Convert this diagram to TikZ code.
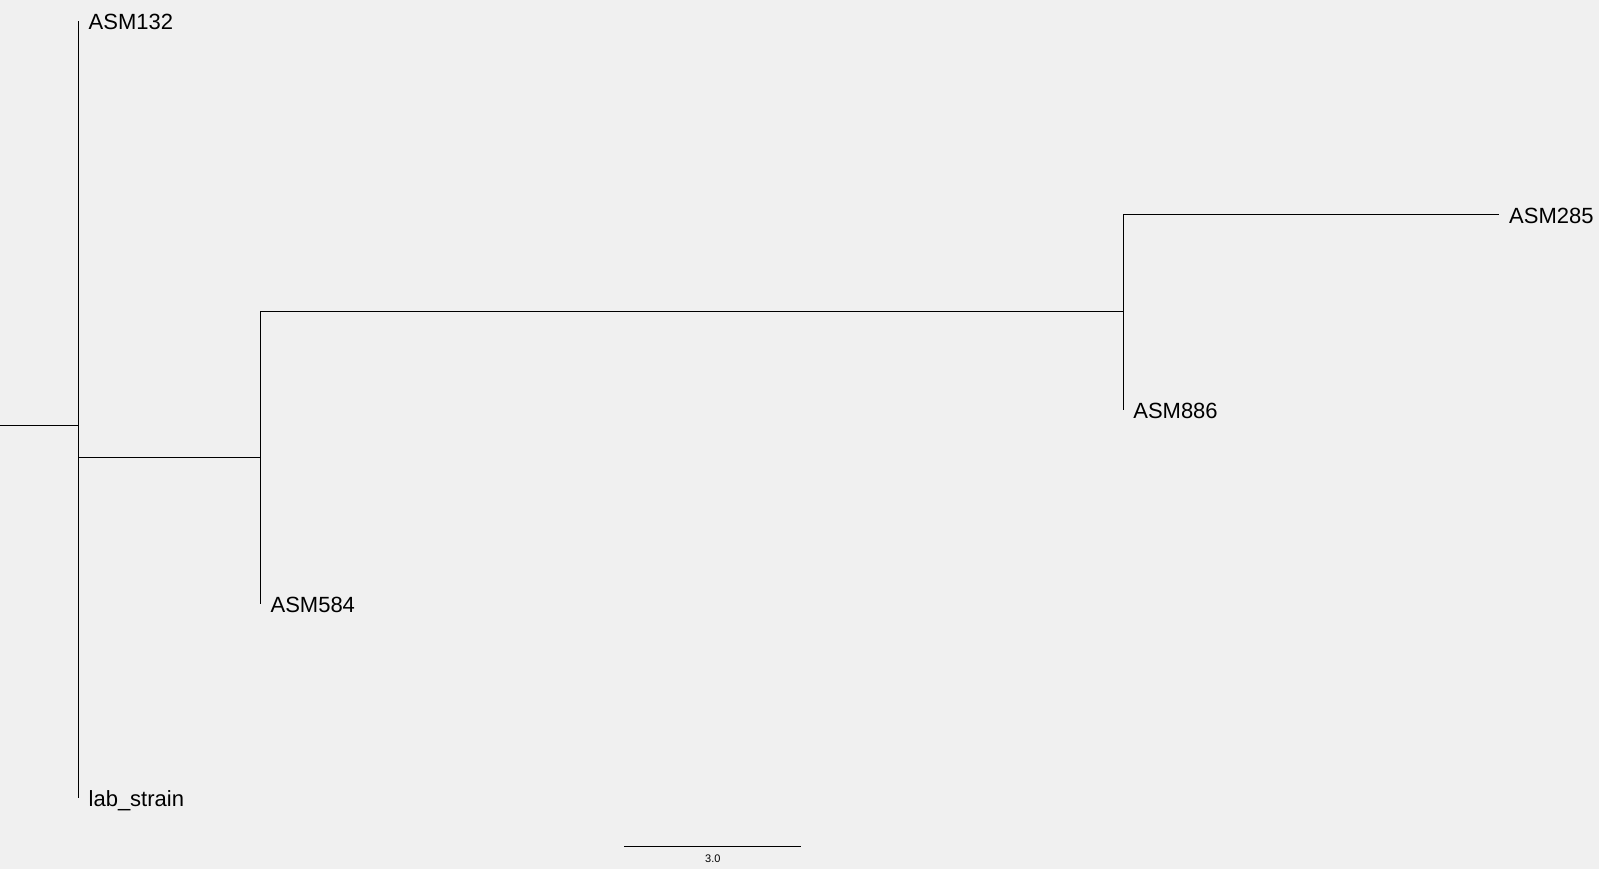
\documentclass[tikz,border=0pt]{standalone}
\usepackage{fontspec}
\setmainfont{Liberation Sans}
\usetikzlibrary{positioning, calc}
\definecolor{bgrey}{RGB}{240,240,240}

\begin{document}
\begin{tikzpicture}[x=1bp, y=-1bp, br/.style={draw=black, line width=1bp}, leaf/.style={anchor=base west, inner sep=0pt, xshift=10bp, yshift=-9bp, font=\fontsize{22bp}{26bp}\selectfont}, sc/.style={inner sep=0pt, font=\fontsize{11bp}{13bp}\selectfont}]
	\fill[bgrey] (0,0) rectangle (1599,869);
	% branch points
	\coordinate (r) at (0,426);
	\coordinate (n1) at (78,426);
	\coordinate (n2) at (260,458);
	\coordinate (n3) at (1123,312);
	% tips
	\coordinate (t132) at (78,21);
	\coordinate (tlab) at (78,798);
	\coordinate (t584) at (260,604);
	\coordinate (t285) at (1499,215);
	\coordinate (t886) at (1123,410);
	\node[leaf] (asm132) at (t132) {ASM132};
	\node[leaf] (lab) at (tlab) {lab\_strain};
	\node[leaf] (asm584) at (t584) {ASM584};
	\node[leaf] (asm285) at (t285) {ASM285};
	\node[leaf] (asm886) at (t886) {ASM886};
	% tree
	\draw[br] (r) -- (n1);
	\draw[br] (n1) |- (t132);
	\draw[br] (n1) |- (tlab);
	\draw[br] (n1) |- (n2);
	\draw[br] (n2) |- (n3);
	\draw[br] (n2) |- (t584);
	\draw[br] (n3) |- (t285);
	\draw[br] (n3) |- (t886);
	% scale bar
	\coordinate (s1) at (624,847);
	\coordinate (s2) at (801,847);
	\draw[br] (s1) -- (s2);
	\node[sc, below=8bp of $(s1)!0.5!(s2)$] (scl) {3.0};
\end{tikzpicture}
\end{document}
